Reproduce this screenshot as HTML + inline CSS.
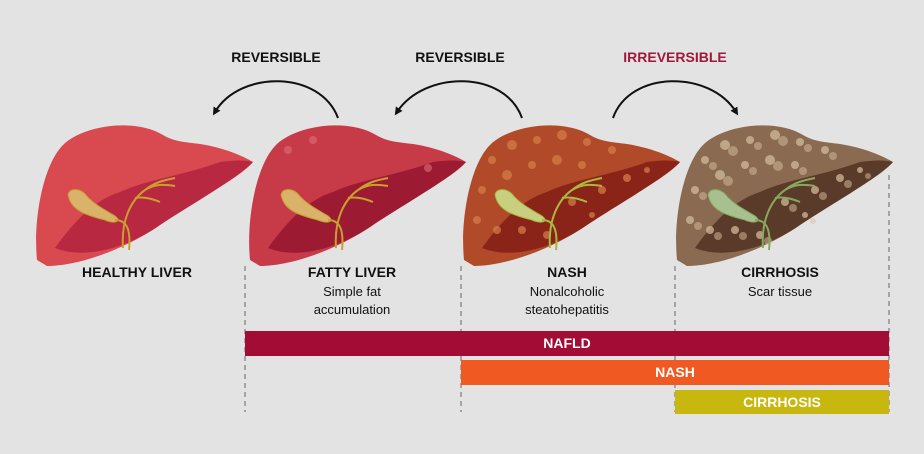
<!DOCTYPE html>
<html><head><meta charset="utf-8"><style>
html,body{margin:0;padding:0;background:#e3e3e3;}
svg{display:block;font-family:"Liberation Sans",Arial,sans-serif;}
</style></head><body>
<svg width="924" height="454" viewBox="0 0 924 454" xmlns="http://www.w3.org/2000/svg">
<defs>
<path id="lv" d="M2,140 C-2,100 8,45 28,25 C48,5 100,-2 128,15 C140,22 150,22 165,24 C190,28 208,36 218,42 C205,58 160,80 125,105 C92,128 45,146 12,146 Z"/>
<path id="lo" d="M20,128 C40,100 60,80 85,72 C110,60 150,55 185,42 C200,40 210,40 218,42 C200,60 160,82 125,105 C92,128 50,140 20,128 Z"/>
<g id="gb"><path d="M34,78 C30,70 42,66 50,74 C58,84 70,90 80,96 C88,102 78,104 70,100 C55,96 38,92 34,78 Z"/><path d="M80,100 C92,100 96,110 94,130 M88,128 C86,100 96,80 110,70 C120,62 130,60 140,58 M110,70 C120,64 128,64 140,66 M100,78 C110,76 120,80 125,82" fill="none" stroke-width="2"/></g>
<g id="sp">
<circle cx="30" cy="40" r="4"/><circle cx="50" cy="25" r="5"/><circle cx="75" cy="20" r="4"/><circle cx="100" cy="15" r="5"/><circle cx="125" cy="22" r="4"/><circle cx="150" cy="30" r="4"/><circle cx="20" cy="70" r="4"/><circle cx="45" cy="55" r="5"/><circle cx="70" cy="45" r="4"/><circle cx="95" cy="40" r="5"/><circle cx="120" cy="45" r="4"/><circle cx="15" cy="100" r="4"/><circle cx="35" cy="110" r="4"/><circle cx="110" cy="82" r="4"/><circle cx="140" cy="70" r="4"/><circle cx="165" cy="58" r="4"/><circle cx="185" cy="50" r="3"/><circle cx="60" cy="110" r="4"/><circle cx="85" cy="115" r="4"/><circle cx="130" cy="95" r="3"/>
</g>
<marker id="ah" markerWidth="8" markerHeight="8" refX="4" refY="4" orient="auto" markerUnits="userSpaceOnUse"><path d="M0,0 L8,4 L0,8 Z" fill="#111"/></marker>
</defs>
<g transform="translate(35,120)"><use href="#lv" fill="#d94a50"/><use href="#lo" fill="#b82840"/><g fill="#d9b36a" stroke="#c9a030"><use href="#gb"/></g></g>
<g transform="translate(248,120)"><use href="#lv" fill="#c73a48"/><use href="#lo" fill="#9c1a32"/><g fill="#e0707a" opacity="0.6"><circle cx="40" cy="30" r="4"/><circle cx="65" cy="20" r="4"/><circle cx="180" cy="48" r="4"/></g><g fill="#d9b36a" stroke="#c9a030"><use href="#gb"/></g></g>
<g transform="translate(462,120)"><use href="#lv" fill="#b04a28"/><use href="#lo" fill="#8a2418"/><g fill="#d8804a" opacity="0.7"><use href="#sp"/></g><g fill="#c8d080" stroke="#a8b840"><use href="#gb"/></g></g>
<g transform="translate(675,120)"><use href="#lv" fill="#8a6a50"/><use href="#lo" fill="#5a3a28"/><g fill="#d8c0a0" opacity="0.7"><use href="#sp"/></g><g fill="#d8c0a0" opacity="0.5" transform="translate(8,6)"><use href="#sp"/></g><g fill="#a8c090" stroke="#88a860"><use href="#gb"/></g></g>
<g fill="none" stroke="#111" stroke-width="2">
<path d="M338,118 C320,70 240,70 215,112" marker-end="url(#ah)"/>
<path d="M522,118 C505,70 425,70 397,112" marker-end="url(#ah)"/>
<path d="M613,118 C630,70 710,70 736,112" marker-end="url(#ah)"/>
</g>
<g font-weight="bold" font-size="14" text-anchor="middle">
<text x="276" y="62" fill="#111">REVERSIBLE</text>
<text x="460" y="62" fill="#111">REVERSIBLE</text>
<text x="675" y="62" fill="#a0183a">IRREVERSIBLE</text>
</g>
<g stroke="#666" stroke-width="1" stroke-dasharray="5,4">
<line x1="245" y1="266" x2="245" y2="412"/><line x1="461" y1="266" x2="461" y2="412"/><line x1="675" y1="266" x2="675" y2="412"/><line x1="889" y1="175" x2="889" y2="412"/>
</g>
<g text-anchor="middle" fill="#111">
<text x="137" y="277" font-weight="bold" font-size="14">HEALTHY LIVER</text>
<text x="352" y="277" font-weight="bold" font-size="14">FATTY LIVER</text>
<text x="567" y="277" font-weight="bold" font-size="14">NASH</text>
<text x="780" y="277" font-weight="bold" font-size="14">CIRRHOSIS</text>
<g font-size="13"><text x="352" y="296">Simple fat</text><text x="352" y="314">accumulation</text>
<text x="567" y="296">Nonalcoholic</text><text x="567" y="314">steatohepatitis</text>
<text x="780" y="296">Scar tissue</text></g>
</g>
<rect x="245" y="331" width="644" height="25" fill="#a30d35"/>
<rect x="461" y="360" width="428" height="25" fill="#f05a22"/>
<rect x="675" y="390" width="214" height="24" fill="#c8b70f"/>
<g fill="#fff" font-weight="bold" font-size="14" text-anchor="middle">
<text x="567" y="348">NAFLD</text><text x="675" y="377">NASH</text><text x="782" y="407">CIRRHOSIS</text>
</g>
</svg>
</body></html>
